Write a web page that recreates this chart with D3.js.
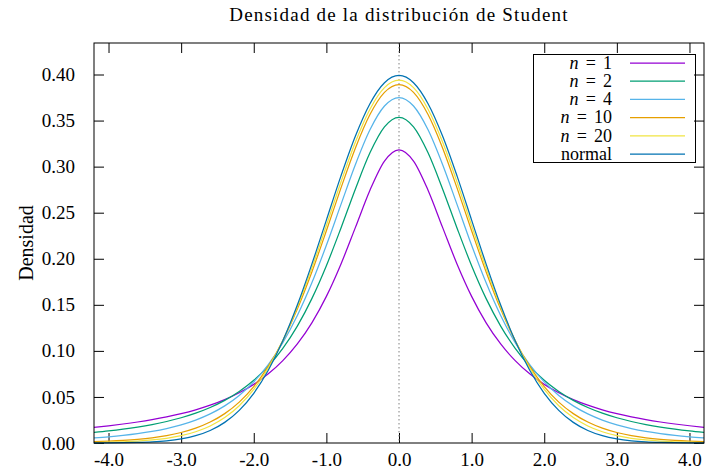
<!DOCTYPE html>
<html>
<head>
<meta charset="utf-8">
<script src="https://cdn.jsdelivr.net/npm/d3@7"></script>
<style>
  body { margin: 0; background: #fff; }
  svg { display: block; }
  svg text { font-family: "Liberation Serif", "DejaVu Serif", serif; }
</style>
</head>
<body>
<svg id="chart" width="706" height="470"></svg>
<script>
(function () {
  'use strict';

  // x grid shared by all curves
  var xs = [-4.2, -4.0, -3.8, -3.6, -3.4, -3.2, -3.0, -2.8, -2.6, -2.4, -2.2, -2.0, -1.8, -1.6, -1.4,
    -1.2, -1.0, -0.8, -0.6, -0.4, -0.2, 0.0, 0.2, 0.4, 0.6, 0.8, 1.0, 1.2, 1.4, 1.6, 1.8, 2.0,
    2.2, 2.4, 2.6, 2.8, 3.0, 3.2, 3.4, 3.6, 3.8, 4.0, 4.2];

  var n1 = [0.01708, 0.01872, 0.02062, 0.02280, 0.02534, 0.02832, 0.03183, 0.03601, 0.04102, 0.04709,
    0.05451, 0.06366, 0.07507, 0.08941, 0.10754, 0.13046, 0.15915, 0.19409, 0.23405, 0.27441, 0.30607,
    0.31831,
    0.30607, 0.27441, 0.23405, 0.19409, 0.15915, 0.13046, 0.10754, 0.08941, 0.07507, 0.06366, 0.05451,
    0.04709, 0.04102, 0.03601, 0.03183, 0.02832, 0.02534, 0.02280, 0.02062, 0.01872, 0.01708];

  var n2 = [0.01149, 0.01309, 0.01500, 0.01728, 0.02003, 0.02335, 0.02741, 0.03240, 0.03857, 0.04626,
    0.05590, 0.06804, 0.08337, 0.10270, 0.12690, 0.15673, 0.19245, 0.23313, 0.27582, 0.31501, 0.34321,
    0.35355,
    0.34321, 0.31501, 0.27582, 0.23313, 0.19245, 0.15673, 0.12690, 0.10270, 0.08337, 0.06804, 0.05590,
    0.04626, 0.03857, 0.03240, 0.02741, 0.02335, 0.02003, 0.01728, 0.01500, 0.01309, 0.01149];

  var n4 = [0.00551, 0.00671, 0.00822, 0.01013, 0.01256, 0.01568, 0.01969, 0.02488, 0.03160, 0.04032,
    0.05165, 0.06629, 0.08508, 0.10887, 0.13838, 0.17385, 0.21466, 0.25875, 0.30232, 0.33998, 0.36579,
    0.37500,
    0.36579, 0.33998, 0.30232, 0.25875, 0.21466, 0.17385, 0.13838, 0.10887, 0.08508, 0.06629, 0.05165,
    0.04032, 0.03160, 0.02488, 0.01969, 0.01568, 0.01256, 0.01013, 0.00822, 0.00671, 0.00551];

  var n10 = [0.00145, 0.00203, 0.00285, 0.00402, 0.00569, 0.00805, 0.01140, 0.01612, 0.02273, 0.03188,
    0.04438, 0.06115, 0.08312, 0.11107, 0.14534, 0.18566, 0.23036, 0.27663, 0.32033, 0.35658, 0.38066,
    0.38911,
    0.38066, 0.35658, 0.32033, 0.27663, 0.23036, 0.18566, 0.14534, 0.11107, 0.08312, 0.06115, 0.04438,
    0.03188, 0.02273, 0.01612, 0.01140, 0.00805, 0.00569, 0.00402, 0.00285, 0.00203, 0.00145];

  var n20 = [0.00052, 0.00082, 0.00131, 0.00208, 0.00328, 0.00513, 0.00796, 0.01223, 0.01852, 0.02763,
    0.04048, 0.05809, 0.08144, 0.11123, 0.14762, 0.18986, 0.23605, 0.28304, 0.32669, 0.36237, 0.38581,
    0.39399,
    0.38581, 0.36237, 0.32669, 0.28304, 0.23605, 0.18986, 0.14762, 0.11123, 0.08144, 0.05809, 0.04048,
    0.02763, 0.01852, 0.01223, 0.00796, 0.00513, 0.00328, 0.00208, 0.00131, 0.00082, 0.00052];

  var normal = [0.00006, 0.00013, 0.00029, 0.00061, 0.00123, 0.00238, 0.00443, 0.00792, 0.01358, 0.02239,
    0.03547, 0.05399, 0.07895, 0.11092, 0.14973, 0.19419, 0.24197, 0.28969, 0.33322, 0.36827, 0.39104,
    0.39894,
    0.39104, 0.36827, 0.33322, 0.28969, 0.24197, 0.19419, 0.14973, 0.11092, 0.07895, 0.05399, 0.03547,
    0.02239, 0.01358, 0.00792, 0.00443, 0.00238, 0.00123, 0.00061, 0.00029, 0.00013, 0.00006];

  var seriesLabels = ['1', '2', '4', '10', '20', 'normal'];
  var seriesColors = ['#9400d3', '#009e73', '#56b4e9', '#e69f00', '#f0e442', '#0072b2'];

  var xTicks = [-4, -3, -2, -1, 0, 1, 2, 3, 4];
  var xTickLabels = ['-4.0', '-3.0', '-2.0', '-1.0', '0.0', '1.0', '2.0', '3.0', '4.0'];
  var yTicks = [0, 0.05, 0.1, 0.15, 0.2, 0.25, 0.3, 0.35, 0.4];
  var yTickLabels = ['0.00', '0.05', '0.10', '0.15', '0.20', '0.25', '0.30', '0.35', '0.40'];

  var series = [n1, n2, n4, n10, n20, normal];

  var width = 706,
      height = 470,
      margin = {top: 43, right: 2, bottom: 27, left: 94},
      plotW = width - margin.left - margin.right,
      plotH = height - margin.top - margin.bottom,
      serif = '"Liberation Serif", "DejaVu Serif", serif';

  var svg = d3.select('#chart').attr('font-family', serif);

  var x = d3.scaleLinear().domain([-4.2, 4.2]).range([0, plotW]);
  var y = d3.scaleLinear().domain([0, 0.4342]).range([plotH, 0]);

  var g = svg.append('g')
    .attr('transform', 'translate(' + margin.left + ',' + margin.top + ')');

  // axes, ticks pointing inward and mirrored
  g.append('g')
    .attr('transform', 'translate(0,' + plotH + ')')
    .call(d3.axisBottom(x).tickValues(xTicks)
      .tickFormat(function (d, i) { return xTickLabels[i]; })
      .tickSizeInner(-10).tickSizeOuter(0).tickPadding(10));

  g.append('g')
    .call(d3.axisLeft(y).tickValues(yTicks)
      .tickFormat(function (d, i) { return yTickLabels[i]; })
      .tickSizeInner(-10).tickSizeOuter(0).tickPadding(19));

  g.append('g')
    .call(d3.axisTop(x).tickValues(xTicks).tickFormat('')
      .tickSizeInner(-10).tickSizeOuter(0));

  g.append('g')
    .attr('transform', 'translate(' + plotW + ',0)')
    .call(d3.axisRight(y).tickValues(yTicks).tickFormat('')
      .tickSizeInner(-10).tickSizeOuter(0));

  g.selectAll('.domain').remove();
  g.selectAll('.tick line').attr('stroke', '#000');
  g.selectAll('.tick').each(function () {
    d3.select(this.parentNode).attr('font-family', serif).attr('font-size', 19);
  });
  g.selectAll('.tick text').attr('fill', '#000');

  // zero line
  g.append('line')
    .attr('x1', x(0)).attr('x2', x(0))
    .attr('y1', 0).attr('y2', plotH)
    .attr('stroke', '#808080')
    .attr('stroke-width', 1)
    .attr('stroke-dasharray', '1.5,2.5');

  // curves
  var line = d3.line()
    .x(function (d, i) { return x(xs[i]); })
    .y(function (d) { return y(d); })
    .curve(d3.curveMonotoneX);

  g.selectAll('path.curve')
    .data(series)
    .enter()
    .append('path')
      .attr('class', 'curve')
      .attr('d', line)
      .attr('fill', 'none')
      .attr('stroke', function (d, i) { return seriesColors[i]; })
      .attr('stroke-width', 1.25);

  // frame
  g.append('rect')
    .attr('x', 0).attr('y', 0)
    .attr('width', plotW).attr('height', plotH)
    .attr('fill', 'none')
    .attr('stroke', '#000')
    .attr('stroke-width', 1);

  // legend
  var legend = svg.append('g');
  legend.append('rect')
    .attr('x', 533.5).attr('y', 54.5)
    .attr('width', 162).attr('height', 108)
    .attr('fill', 'none')
    .attr('stroke', '#000');

  var rows = legend.selectAll('g.row')
    .data(seriesLabels)
    .enter()
    .append('g')
      .attr('class', 'row')
      .attr('transform', function (d, i) { return 'translate(0,' + (63 + i * 18.2) + ')'; });

  rows.append('line')
    .attr('x1', 630).attr('x2', 685)
    .attr('stroke', function (d, i) { return seriesColors[i]; })
    .attr('stroke-width', 1.25);

  var labels = rows.append('text')
    .attr('x', 612)
    .attr('dy', '0.32em')
    .attr('text-anchor', 'end')
    .attr('font-size', 18);

  labels.each(function (d) {
    var t = d3.select(this);
    if (d === 'normal') {
      t.text(d);
    } else {
      t.append('tspan').attr('font-style', 'italic').text('n');
      t.append('tspan').text('\u2009\u2009=\u2009\u2009' + d);
    }
  });

  // titles
  svg.append('text')
    .attr('x', margin.left + plotW / 2)
    .attr('y', 21)
    .attr('text-anchor', 'middle')
    .attr('font-size', 19)
    .attr('letter-spacing', 1.2)
    .text('Densidad de la distribución de Student');

  svg.append('text')
    .attr('transform', 'translate(33,' + (margin.top + plotH / 2) + ') rotate(-90)')
    .attr('text-anchor', 'middle')
    .attr('font-size', 20)
    .text('Densidad');
})();
</script>
</body>
</html>
